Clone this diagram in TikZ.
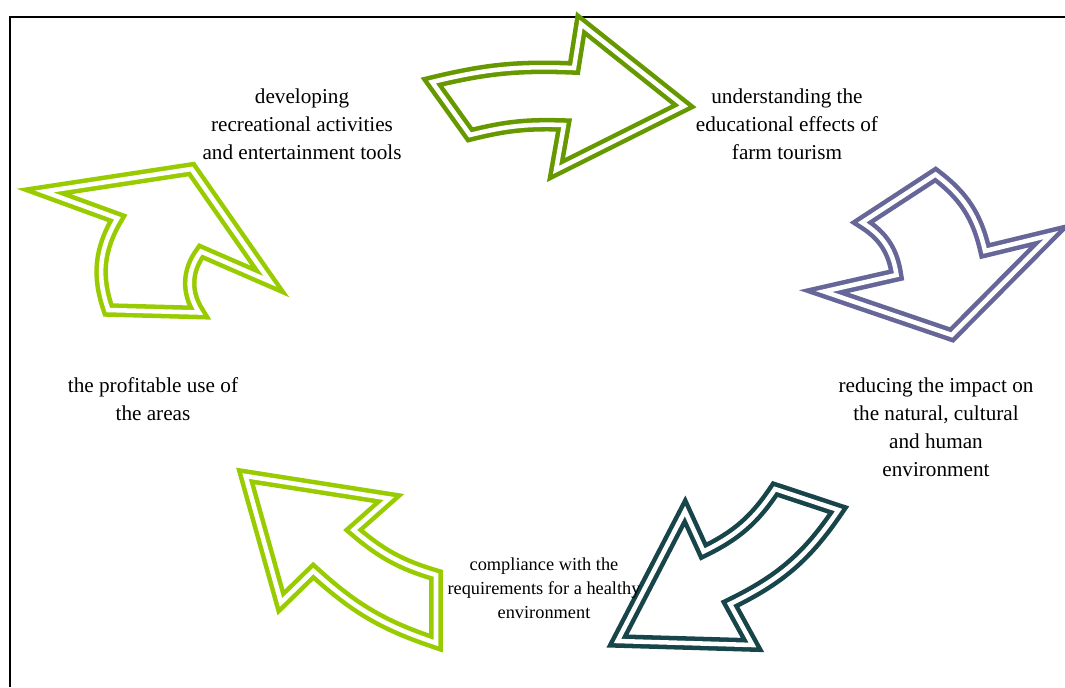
\documentclass[tikz,border=0pt]{standalone}
\usepackage{fontspec}
\setmainfont{Liberation Serif}
\usetikzlibrary{positioning}
\definecolor{mydarkgreen}{RGB}{102,153,0}
\definecolor{mylightgreen}{RGB}{153,204,0}
\definecolor{mypurple}{RGB}{102,102,153}
\definecolor{myteal}{RGB}{23,69,74}
\tikzstyle{myframe}=[draw=black,line width=1.5pt]
\tikzstyle{mycomment}=[inner sep=1pt,align=center,text=black,font=\fontsize{15.9}{21}\selectfont]
\tikzstyle{mysmallcomment}=[mycomment,font=\fontsize{13.75}{18}\selectfont]
\tikzstyle{mycurvedarrow}=[draw=#1,double=white,line width=3.4pt,double distance=3.4pt,
                           fill=white,line join=miter,miter limit=20]

\begin{document}
\begin{tikzpicture}[x=0.75pt,y=-0.75pt]
  \useasboundingbox (0,0) rectangle (1065,687);

  % frame
  \draw[myframe] (10,687) -- (10,17) -- (1065,17);

  % top arrow
  \draw[mycurvedarrow=mydarkgreen] (432,82) to[bend left=8] (574,68) -- (581,24)
    -- (684,106) -- (556,170) -- (564,125) to[bend right=8] (470,135) -- cycle;

  % right arrow
  \draw[mycurvedarrow=mypurple] (935.5,174.5) to[bend left=20] (985,251) -- (1051,235)
    -- (951.7,335) -- (824,291.5) -- (896.5,275) to[bend right=25] (862,222.5) -- cycle;

  % lower right arrow
  \draw[mycurvedarrow=myteal] (838.5,510) to[bend left=15] (730,604) -- (752.5,645)
    -- (617.5,641) -- (685,511) -- (703.5,551.5) to[bend right=15] (775,489) -- cycle;

  % lower left arrow
  \draw[mycurvedarrow=mylightgreen] (245.5,476) -- (389,498.5) -- (353.5,530)
    to[bend right=12] (436,575) -- (436,643) to[bend left=12] (313.3,571) -- (281,602.5) -- cycle;

  % upper left arrow
  \draw[mycurvedarrow=mylightgreen] (44,191.5) -- (191.5,169) -- (270,281.5) -- (201,251.5)
    to[bend right=35] (199,312.5) -- (108.3,310) to[bend left=25] (117.5,218.3) -- cycle;

  % LABELS
  \node[mycomment] (develop) at (302,124) {developing\\recreational activities\\and entertainment tools};
  \node[mycomment] (understand) at (787,124) {understanding the\\educational effects of\\farm tourism};
  \node[mycomment] (reduce) at (936,427) {reducing the impact on\\the natural, cultural\\and human\\environment};
  \node[mysmallcomment] (comply) at (544,588) {compliance with the\\requirements for a healthy\\environment};
  \node[mycomment] (profit) at (153,399) {the profitable use of\\the areas};

\end{tikzpicture}
\end{document}
